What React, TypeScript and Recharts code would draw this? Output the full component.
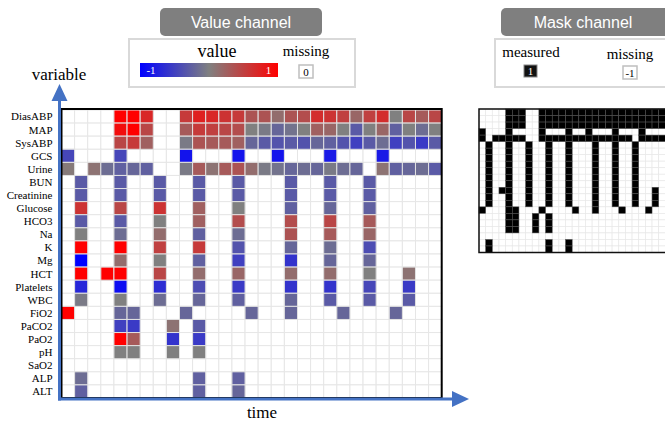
import { ScatterChart, Scatter, XAxis, YAxis } from "recharts";

const variables = [
  "DiasABP", "MAP", "SysABP", "GCS", "Urine", "BUN", "Creatinine", "Glucose",
  "HCO3", "Na", "K", "Mg", "HCT", "Platelets", "WBC", "FiO2", "PaCO2", "PaO2",
  "pH", "SaO2", "ALP", "ALT",
];
const TIME_STEPS = 29;

// observations per variable: [time step, normalised value in -1..1]
const diasABP: [number, number][] = [
  [4, 1], [5, 1], [6, 0.7], [9, 0.55], [10, 0.75], [11, 0.7], [12, 0.6], [13, 0.55],
  [14, 0.35], [15, 0.35], [16, 0.15], [17, 0.35], [18, 0.4], [19, 0.65], [20, 0.6],
  [21, 0.5], [22, 0.2], [23, 0.5], [24, 0.65], [25, 0], [26, 0.45], [27, 0.3], [28, 0.45],
];
const map: [number, number][] = [
  [4, 0.9], [5, 1], [6, 0.45], [9, 0.3], [10, 0.55], [11, 0.5], [12, 0.45], [13, 0.4],
  [14, 0], [15, -0.05], [16, -0.2], [17, -0.1], [18, 0], [19, 0.25], [20, 0.2],
  [21, 0], [22, -0.3], [23, 0], [24, 0.2], [25, -0.25], [26, 0], [27, -0.15], [28, 0],
];
const sysABP: [number, number][] = [
  [4, 0.45], [5, 0.55], [6, 0.25], [9, -0.05], [10, 0.35], [11, 0.3], [12, 0.3], [13, 0.25],
  [14, -0.2], [15, -0.3], [16, -0.35], [17, -0.3], [18, -0.35], [19, -0.2], [20, -0.25],
  [21, -0.35], [22, -0.5], [23, -0.3], [24, -0.15], [25, -0.5], [26, -0.35], [27, -0.55], [28, -0.3],
];
const gcs: [number, number][] = [[0, -0.45], [4, -0.45], [9, -0.85], [13, -0.85], [16, -0.85], [20, -0.8], [24, -0.8]];
const urine: [number, number][] = [
  [0, 0.05], [2, 0.1], [3, -0.15], [4, -0.25], [5, -0.2], [6, -0.25], [9, -0.05], [10, 0.3],
  [11, 0.1], [12, 0.3], [13, 0.35], [14, 0.15], [15, -0.05], [16, -0.1], [17, -0.2], [18, -0.15],
  [19, -0.2], [20, -0.05], [21, -0.15], [22, -0.2], [24, 0.1], [25, -0.25], [26, -0.2], [27, -0.15], [28, -0.3],
];
const bun: [number, number][] = [[1, -0.3], [4, -0.3], [7, -0.3], [10, -0.3], [13, -0.3], [17, -0.3], [20, -0.3], [23, -0.3]];
const creatinine: [number, number][] = [[1, -0.3], [4, -0.3], [7, -0.3], [10, -0.3], [13, -0.3], [17, -0.3], [20, -0.3], [23, -0.3]];
const glucose: [number, number][] = [[1, 0.6], [4, 0.45], [7, 0.6], [10, 0.25], [13, 0], [17, -0.25], [20, -0.2], [23, -0.25]];
const hco3: [number, number][] = [[1, -0.3], [4, -0.3], [7, 0], [10, 0.25], [13, 0.4], [17, 0.4], [20, 0.45], [23, 0.3]];
const na: [number, number][] = [[1, 0], [4, -0.15], [7, 0.15], [10, -0.25], [13, -0.15], [17, 0.35], [20, 0.3], [23, 0.2]];
const k: [number, number][] = [[1, 1], [4, 1], [7, 0.5], [10, 0.55], [13, -0.35], [17, -0.2], [20, -0.15], [23, -0.4]];
const mg: [number, number][] = [[1, -1], [4, 0.15], [7, 0], [10, -0.25], [13, -0.5], [17, -0.6], [20, -0.2], [23, -0.2]];
const hct: [number, number][] = [[1, 1], [3, 1], [4, 1], [7, 0.45], [10, 0.15], [13, 0.2], [17, 0.15], [20, 0.15], [23, 0], [26, 0.1]];
const platelets: [number, number][] = [[1, -0.7], [4, -0.9], [7, -0.65], [10, -0.4], [13, -0.55], [17, -0.6], [20, -0.6], [23, -0.45], [26, -0.55]];
const wbc: [number, number][] = [[1, -0.05], [4, 0], [7, -0.15], [10, -0.2], [13, -0.25], [17, -0.2], [20, -0.3], [23, -0.3], [26, -0.3]];
const fio2: [number, number][] = [[0, 1], [4, -0.2], [5, -0.2], [9, -0.2], [14, -0.2], [17, -0.2], [21, -0.2], [25, -0.2]];
const paco2: [number, number][] = [[4, -0.5], [5, -0.55], [8, 0.1], [10, -0.3]];
const pao2: [number, number][] = [[4, 1], [5, 0.3], [8, -0.6], [10, -0.55]];
const ph: [number, number][] = [[4, 0], [5, 0], [8, 0], [10, 0]];
const sao2: [number, number][] = [];
const alp: [number, number][] = [[1, -0.15], [10, -0.25], [13, -0.25]];
const alt: [number, number][] = [[1, -0.25], [10, -0.25], [13, -0.2]];

const series = [
  diasABP, map, sysABP, gcs, urine, bun, creatinine, glucose, hco3, na, k, mg,
  hct, platelets, wbc, fio2, paco2, pao2, ph, sao2, alp, alt,
];

const ROWS = variables.length;

// blue (-1) -> gray (0) -> red (1)
const valueColor = (v: number) => {
  const t = Math.min(1, Math.abs(v));
  const lo = Math.round(128 * (1 - t));
  const hi = Math.round(128 + 127 * t);
  return v >= 0 ? `rgb(${hi},${lo},${lo})` : `rgb(${lo},${lo},${hi})`;
};

const measured = series.flatMap((obs, row) =>
  obs.map(([t, v]) => ({ t: t + 0.5, row: row + 0.5, v }))
);
const allCells: { t: number; row: number }[] = [];
for (let r = 0; r < ROWS; r++) {
  for (let t = 0; t < TIME_STEPS; t++) allCells.push({ t: t + 0.5, row: r + 0.5 });
}

// plot areas
const VAL = { left: 61.5, top: 110, width: 380.2, height: 288 };
const MASK = { left: 479, top: 109, width: 193, height: 143.5 };
const valW = VAL.width / TIME_STEPS;
const valH = VAL.height / ROWS;
const maskW = MASK.width / TIME_STEPS;
const maskH = MASK.height / ROWS;

const rectShape = (w: number, h: number, style: (p: any) => any) => (props: any) => {
  const { cx, cy, payload } = props;
  if (cx == null || cy == null) return <g />;
  return <rect x={cx - w / 2} y={cy - h / 2} width={w} height={h} {...style(payload)} />;
};

const serif = "'Liberation Serif', 'Times New Roman', serif";
const sans = "'Liberation Sans', Arial, sans-serif";
const BLUE = "#4472c4";

const rowTicks = variables.map((_, i) => i + 0.5);

const ValueChart = () => (
  <ScatterChart
    width={665}
    height={424}
    margin={{ left: 0, top: VAL.top, right: 665 - VAL.left - VAL.width, bottom: 424 - VAL.top - VAL.height }}
  >
    <XAxis type="number" dataKey="t" domain={[0, TIME_STEPS]} hide />
    <YAxis
      type="number"
      dataKey="row"
      domain={[0, ROWS]}
      reversed
      width={VAL.left}
      ticks={rowTicks}
      interval={0}
      tickFormatter={(v: number) => variables[Math.floor(v)]}
      axisLine={false}
      tickLine={false}
      tickSize={0}
      tickMargin={9}
      tick={{ fontFamily: serif, fontSize: 11, fill: "#000" }}
    />
    <Scatter
      data={allCells}
      isAnimationActive={false}
      shape={rectShape(valW, valH, () => ({ fill: "#fff", stroke: "#e6e6e6", strokeWidth: 1 }))}
    />
    <Scatter
      data={measured}
      isAnimationActive={false}
      shape={rectShape(valW, valH, (p) => ({ fill: valueColor(p.v), stroke: "#e2e2e2", strokeWidth: 1 }))}
    />
  </ScatterChart>
);

const MaskChart = () => (
  <ScatterChart
    width={700}
    height={424}
    margin={{ left: MASK.left, top: MASK.top, right: 700 - MASK.left - MASK.width, bottom: 424 - MASK.top - MASK.height }}
  >
    <XAxis type="number" dataKey="t" domain={[0, TIME_STEPS]} hide />
    <YAxis type="number" dataKey="row" domain={[0, ROWS]} reversed hide />
    <Scatter
      data={allCells}
      isAnimationActive={false}
      shape={rectShape(maskW, maskH, () => ({ fill: "#fff", stroke: "#e8e8e8", strokeWidth: 0.7 }))}
    />
    <Scatter
      data={measured}
      isAnimationActive={false}
      shape={rectShape(maskW, maskH, () => ({ fill: "#000", stroke: "#555", strokeWidth: 0.5 }))}
    />
  </ScatterChart>
);

const Overlay = () => (
  <svg width={665} height={424} style={{ position: "absolute", left: 0, top: 0 }}>
    <defs>
      <linearGradient id="valgrad" x1="0" x2="1" y1="0" y2="0">
        <stop offset="0%" stopColor="#0000ff" />
        <stop offset="50%" stopColor="#808080" />
        <stop offset="100%" stopColor="#ff0000" />
      </linearGradient>
    </defs>
    {/* value heatmap frame */}
    <rect x={VAL.left} y={VAL.top - 1} width={VAL.width} height={VAL.height + 1} fill="none" stroke="#000" strokeWidth={2} />
    {/* mask frame */}
    <rect x={MASK.left} y={MASK.top} width={MASK.width} height={MASK.height} fill="none" stroke="#111" strokeWidth={1.5} />
    {/* axes arrows */}
    <line x1={59.5} y1={400.5} x2={59.5} y2={100} stroke={BLUE} strokeWidth={3} />
    <polygon points="59.5,84 51.5,101 67.5,101" fill={BLUE} />
    <line x1={58} y1={399} x2={453} y2={399} stroke={BLUE} strokeWidth={3} />
    <polygon points="469,399 452,391 452,407" fill={BLUE} />
    <text x={59} y={80} textAnchor="middle" fontFamily={serif} fontSize={17}>variable</text>
    <text x={262} y={418} textAnchor="middle" fontFamily={serif} fontSize={17}>time</text>

    {/* value channel legend */}
    <rect x={160} y={8} width={162} height={28} rx={5} fill="#7f7f7f" />
    <text x={241} y={27.5} textAnchor="middle" fill="#fff" fontFamily={sans} fontSize={16}>Value channel</text>
    <rect x={129} y={39} width={226} height={48} fill="#fff" stroke="#d9d9d9" strokeWidth={2} />
    <text x={217} y={57} textAnchor="middle" fontFamily={serif} fontSize={18}>value</text>
    <rect x={140} y={63} width={138} height={14} fill="url(#valgrad)" />
    <text x={151} y={74} textAnchor="middle" fill="#fff" fontFamily={serif} fontSize={11}>-1</text>
    <text x={268.5} y={74} textAnchor="middle" fill="#fff" fontFamily={serif} fontSize={11}>1</text>
    <text x={306} y={56} textAnchor="middle" fontFamily={serif} fontSize={15}>missing</text>
    <rect x={299} y={65} width={14} height={13} fill="#fff" stroke="#bfbfbf" strokeWidth={1.5} />
    <text x={306} y={75.5} textAnchor="middle" fontFamily={serif} fontSize={11}>0</text>

    {/* mask channel legend */}
    <rect x={501} y={8} width={180} height={28} rx={5} fill="#7f7f7f" />
    <text x={583} y={27.5} textAnchor="middle" fill="#fff" fontFamily={sans} fontSize={16}>Mask channel</text>
    <rect x={495} y={39} width={190} height={48} fill="#fff" stroke="#d9d9d9" strokeWidth={2} />
    <text x={531} y={57} textAnchor="middle" fontFamily={serif} fontSize={15}>measured</text>
    <rect x={524} y={65} width={13} height={12} fill="#111" stroke="#888" strokeWidth={1} />
    <text x={530.5} y={75} textAnchor="middle" fill="#fff" fontFamily={serif} fontSize={11}>1</text>
    <text x={630} y={59} textAnchor="middle" fontFamily={serif} fontSize={15}>missing</text>
    <rect x={623} y={66} width={14} height={13} fill="#fff" stroke="#bfbfbf" strokeWidth={1.5} />
    <text x={630} y={76.5} textAnchor="middle" fontFamily={serif} fontSize={11}>-1</text>
  </svg>
);

export default function App() {
  return (
    <div style={{ position: "absolute", left: 0, top: 0, width: 665, height: 424, overflow: "hidden", background: "#fff" }}>
      <div style={{ position: "absolute", left: 0, top: 0 }}>
        <ValueChart />
      </div>
      <div style={{ position: "absolute", left: 0, top: 0 }}>
        <MaskChart />
      </div>
      <Overlay />
    </div>
  );
}
